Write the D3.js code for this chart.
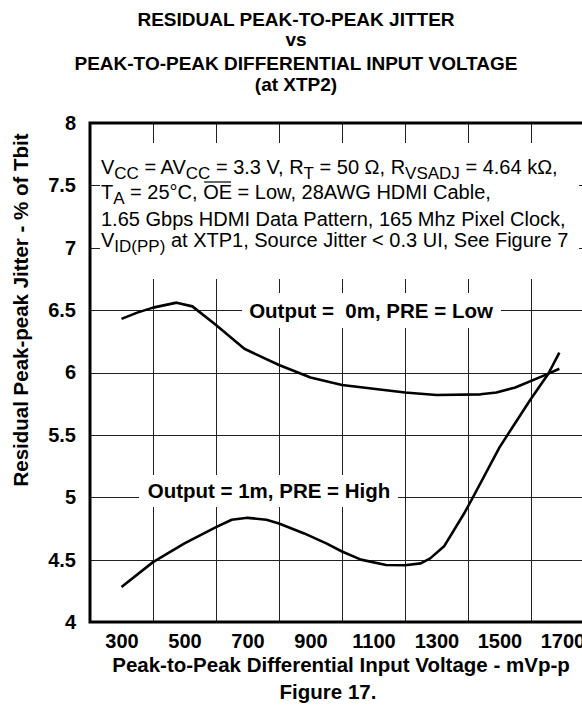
<!DOCTYPE html>
<html>
<head>
<meta charset="utf-8">
<script src="https://cdn.jsdelivr.net/npm/d3@7"></script>
<style>
  body { margin: 0; background: #fff; }
  svg { display: block; font-family: "Liberation Sans", Arial, sans-serif; }
</style>
</head>
<body>
<div id="chart"></div>
<script>
/* global d3 */

// data
const xLabels = [300, 500, 700, 900, 1100, 1300, 1500, 1700];
const xGrid = [400, 600, 800, 1000, 1200, 1400, 1600];
const yTicks = [4, 4.5, 5, 5.5, 6, 6.5, 7, 7.5, 8];
const yTickText = ['4', '4.5', '5', '5.5', '6', '6.5', '7', '7.5', '8'];

const voltage0m = [300, 350, 400, 475, 525, 600, 690, 800, 900, 1000, 1100, 1200, 1300, 1440, 1490, 1550, 1650, 1690];
const jitter0m = [6.43, 6.48, 6.52, 6.56, 6.53, 6.38, 6.19, 6.06, 5.96, 5.90, 5.87, 5.84, 5.82, 5.825, 5.84, 5.88, 5.985, 6.03];

const voltage1m = [300, 400, 500, 600, 650, 700, 760, 800, 880, 950, 1000, 1060, 1140, 1200, 1250, 1280, 1325, 1390, 1420, 1500, 1600, 1655, 1690];
const jitter1m = [4.28, 4.48, 4.63, 4.76, 4.82, 4.835, 4.82, 4.79, 4.71, 4.63, 4.565, 4.50, 4.457, 4.455, 4.47, 4.51, 4.61, 4.88, 5.02, 5.40, 5.79, 5.99, 6.16];

const titleLines = ['RESIDUAL PEAK-TO-PEAK JITTER', 'vs', 'PEAK-TO-PEAK DIFFERENTIAL INPUT VOLTAGE', '(at XTP2)'];

let width = 582, height = 705;
let margin = { top: 123, left: 90, bottom: 83, right: -12 };

let svg = d3.select('#chart')
  .append('svg')
  .attr('width', width)
  .attr('height', height);

let xScale = d3.scaleLinear()
  .domain([200, 1800])
  .range([margin.left, width - margin.right]);
let yScale = d3.scaleLinear()
  .domain([4, 8])
  .range([height - margin.bottom, margin.top]);

// title
svg.append('g')
  .selectAll('text')
  .data(titleLines)
  .enter()
  .append('text')
  .attr('x', 296)
  .attr('y', (d, i) => [26, 45.5, 69.5, 91][i])
  .attr('text-anchor', 'middle')
  .style('font-size', '19px')
  .style('font-weight', 'bold')
  .text(d => d);

// grid
let grid = svg.append('g')
  .attr('stroke', '#222')
  .attr('stroke-width', 1);
grid.selectAll('line.v')
  .data(xGrid)
  .enter()
  .append('line')
  .attr('class', 'v')
  .attr('x1', d => Math.round(xScale(d)) + 0.5)
  .attr('x2', d => Math.round(xScale(d)) + 0.5)
  .attr('y1', yScale(8))
  .attr('y2', yScale(4));
grid.selectAll('line.h')
  .data(yTicks.slice(1, -1))
  .enter()
  .append('line')
  .attr('class', 'h')
  .attr('x1', xScale(200))
  .attr('x2', xScale(1800))
  .attr('y1', d => Math.round(yScale(d)) + 0.5)
  .attr('y2', d => Math.round(yScale(d)) + 0.5);

// white boxes behind the notes
svg.append('rect')
  .attr('x', 100).attr('y', 143)
  .attr('width', 479).attr('height', 136)
  .attr('fill', '#fff');
svg.append('rect')
  .attr('x', 242).attr('y', 293)
  .attr('width', 259).attr('height', 35)
  .attr('fill', '#fff');
svg.append('rect')
  .attr('x', 139).attr('y', 475)
  .attr('width', 259).attr('height', 32)
  .attr('fill', '#fff');

// frame
svg.append('path')
  .attr('d', 'M' + xScale(1800) + ',' + yScale(8) + 'H' + xScale(200) + 'V' + yScale(4) + 'H' + xScale(1800))
  .attr('fill', 'none')
  .attr('stroke', '#000')
  .attr('stroke-width', 3);

// axes labels
let xAxis = d3.axisBottom(xScale)
  .tickValues(xLabels)
  .tickSize(0)
  .tickPadding(0)
  .tickFormat(d3.format('d'));
let gx = svg.append('g')
  .attr('transform', 'translate(0,' + yScale(4) + ')')
  .call(xAxis);
gx.select('.domain').remove();
gx.selectAll('text')
  .attr('y', 26)
  .attr('dy', null)
  .style('font-family', '"Liberation Sans", Arial, sans-serif')
  .style('font-size', '20px')
  .style('font-weight', 'bold')
  .attr('fill', '#000');

let yAxis = d3.axisLeft(yScale)
  .tickValues(yTicks)
  .tickSize(0)
  .tickPadding(14)
  .tickFormat((d, i) => yTickText[i]);
let gy = svg.append('g')
  .attr('transform', 'translate(' + xScale(200) + ',0)')
  .call(yAxis);
gy.select('.domain').remove();
gy.selectAll('text')
  .style('font-family', '"Liberation Sans", Arial, sans-serif')
  .style('font-size', '20px')
  .style('font-weight', 'bold')
  .attr('fill', '#000');

svg.append('text')
  .attr('x', 341)
  .attr('y', 672)
  .attr('text-anchor', 'middle')
  .style('font-size', '20.5px')
  .style('font-weight', 'bold')
  .text('Peak-to-Peak Differential Input Voltage - mVp-p');
svg.append('text')
  .attr('x', 328)
  .attr('y', 699)
  .attr('text-anchor', 'middle')
  .style('font-size', '20.5px')
  .style('font-weight', 'bold')
  .text('Figure 17.');
svg.append('text')
  .attr('transform', 'translate(28,310) rotate(-90)')
  .attr('text-anchor', 'middle')
  .style('font-size', '20.5px')
  .style('font-weight', 'bold')
  .text('Residual Peak-peak Jitter - % of Tbit');

// conditions note, each line is a list of [text, kind]
let noteLines = [
  [['V', ''], ['CC', 'sub'], [' = AV', ''], ['CC', 'sub'], [' = 3.3 V, R', ''], ['T', 'sub'],
    [' = 50 \u03A9, R', ''], ['VSADJ', 'sub'], [' = 4.64 k\u03A9,', '']],
  [['T', ''], ['A', 'sub'], [' = 25\u00B0C, ', ''], ['OE', 'over'], [' = Low, 28AWG HDMI Cable,', '']],
  [['1.65 Gbps HDMI Data Pattern, 165 Mhz Pixel Clock,', '']],
  [['V', ''], ['ID(PP)', 'sub'], [' at XTP1, Source Jitter < 0.3 UI, See Figure 7', '']]
];
let noteY = [174, 198.5, 226, 247];
let note = svg.append('g').style('font-size', '20px');
noteLines.forEach(function(parts, i) {
  let t = note.append('text')
    .attr('x', 101)
    .attr('y', noteY[i]);
  let shifted = false;
  parts.forEach(function(p) {
    let s = t.append('tspan').text(p[0]);
    if (p[1] === 'sub') {
      s.attr('dy', shifted ? 0 : 5).style('font-size', '17px');
      shifted = true;
    } else {
      if (shifted) s.attr('dy', -5);
      shifted = false;
      if (p[1] === 'over') s.classed('over', true);
    }
  });
});
// overline for OE drawn by hand, Chrome puts text-decoration too high
note.selectAll('tspan.over').each(function() {
  let start = this.getStartPositionOfChar(0);
  let len = this.getComputedTextLength();
  note.append('line')
    .attr('x1', start.x + 1)
    .attr('x2', start.x + len - 1)
    .attr('y1', start.y - 16.5)
    .attr('y2', start.y - 16.5)
    .attr('stroke', '#000')
    .attr('stroke-width', 1.2);
});

// curve labels
svg.append('text')
  .attr('x', 371).attr('y', 318)
  .attr('text-anchor', 'middle')
  .style('font-size', '20.5px')
  .style('font-weight', 'bold')
  .style('white-space', 'pre')
  .text('Output =  0m, PRE = Low');
svg.append('text')
  .attr('x', 269).attr('y', 498)
  .attr('text-anchor', 'middle')
  .style('font-size', '20.5px')
  .style('font-weight', 'bold')
  .text('Output = 1m, PRE = High');

// curves
let line = d3.line()
  .x(d => xScale(d[0]))
  .y(d => yScale(d[1]));
let series = [d3.zip(voltage0m, jitter0m), d3.zip(voltage1m, jitter1m)];
svg.selectAll('path.curve')
  .data(series)
  .enter()
  .append('path')
  .attr('class', 'curve')
  .attr('d', line)
  .attr('fill', 'none')
  .attr('stroke', '#000')
  .attr('stroke-width', 2.6)
  .attr('stroke-linejoin', 'round');
</script>
</body>
</html>
